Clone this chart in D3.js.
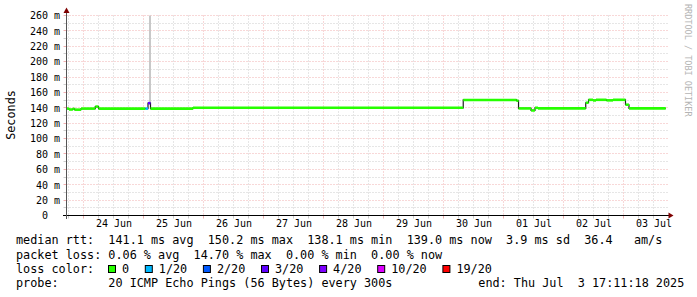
<!DOCTYPE html>
<html>
<head>
<meta charset="utf-8">
<script src="https://cdn.jsdelivr.net/npm/d3@7"></script>
<style>
  html, body { margin: 0; padding: 0; background: #fff; }
  svg { display: block; }
  text { font-family: 'DejaVu Sans Mono', monospace; fill: #000; }
  .pre { white-space: pre; }
</style>
</head>
<body>
<svg id="chart" width="697" height="297"></svg>
<script>
// ---------------- DATA ----------------
const startTime = "2025-06-23 17:11:18";
const endTime   = "2025-07-03 17:11:18";
// median RTT step segments (segment start times, value in ms, lost pings of 20)
const segTimes = [
  "2025-06-23 17:11", "2025-06-23 18:11", "2025-06-23 19:45", "2025-06-23 20:25",
  "2025-06-23 23:00", "2025-06-24 04:42", "2025-06-24 06:00", "2025-06-25 00:47",
  "2025-06-25 01:47", "2025-06-25 02:47", "2025-06-25 19:47", "2025-06-30 07:53",
  "2025-07-01 05:11", "2025-07-01 06:00", "2025-07-01 11:00", "2025-07-01 12:35",
  "2025-07-01 13:47", "2025-07-02 08:53", "2025-07-02 10:00", "2025-07-02 11:47",
  "2025-07-02 13:00", "2025-07-02 17:11", "2025-07-02 19:47", "2025-07-03 00:47",
  "2025-07-03 02:11"
];
const segEnd = "2025-07-03 16:53";
const medianMs = [
  139.0, 137.8, 138.7, 137.6,
  139.0, 141.6, 139.0, 139.0,
  146.0, 139.0, 140.0, 150.2,
  149.2, 139.2, 136.6, 140.0,
  139.2, 146.6, 150.4, 149.6,
  150.4, 149.7, 150.4, 144.0,
  139.3
];
const lossCount = [
  0, 0, 0, 0,
  0, 0, 0, 1,
  3, 0, 0, 0,
  0, 0, 0, 0,
  0, 0, 0, 0,
  0, 0, 0, 0,
  0
];
// smoke (spread of individual pings) where visible
const smokeStart = ["2025-06-25 02:11"];
const smokeEnd   = ["2025-06-25 02:59"];
const smokeMin   = [145];
const smokeMax   = [300];

const yTicks = [0, 20, 40, 60, 80, 100, 120, 140, 160, 180, 200, 220, 240, 260];
const lossLabels = ["0", "1/20", "2/20", "3/20", "4/20", "10/20", "19/20"];
const lossKeys   = [0, 1, 2, 3, 4, 10, 19];
const lossColors = ["#26ff00", "#00b8ff", "#0059ff", "#5e00ff", "#7e00ff", "#dd00ff", "#ff0000"];

const legendLine1 = "median rtt:  141.1 ms avg  150.2 ms max  138.1 ms min  139.0 ms now  3.9 ms sd  36.4   am/s";
const legendLine2 = "packet loss: 0.06 % avg  14.70 % max  0.00 % min  0.00 % now";
const legendLine3 = "loss color:";
const legendLine4 = "probe:       20 ICMP Echo Pings (56 Bytes) every 300s";
const legendEnd   = "end: Thu Jul  3 17:11:18 2025";
const yTitle = "Seconds";
const watermark = "RRDTOOL / TOBI OETIKER";

// ---------------- DRAW ----------------
const parse = d3.timeParse("%Y-%m-%d %H:%M");
const parseS = d3.timeParse("%Y-%m-%d %H:%M:%S");
const t0 = parseS(startTime), t1 = parseS(endTime);

const X0 = 66.5, X1 = 666.5, Y0 = 215.5, Y1 = 15.5;
const x = d3.scaleTime().domain([t0, t1]).range([X0, X1]);
const y = d3.scaleLinear().domain([0, 260]).range([Y0, Y1]);

const svg = d3.select("#chart");
svg.append("rect").attr("width", 697).attr("height", 297).attr("fill", "#fff");

const gridMinor = "rgba(143,143,143,0.45)";
const gridMajor = "rgba(222,80,80,0.45)";
const px = v => Math.round(v - 0.5) + 0.5;

// horizontal grid
const hMinor = d3.range(10, 261, 20);
const g = svg.append("g");
g.selectAll(".hmin").data(hMinor).join("line")
  .attr("x1", X0).attr("x2", X1 + 1).attr("y1", d => px(y(d))).attr("y2", d => px(y(d)))
  .attr("stroke", gridMinor).attr("stroke-dasharray", "1,2");
g.selectAll(".hmaj").data(yTicks.filter(d => d > 0)).join("line")
  .attr("x1", X0).attr("x2", X1 + 1).attr("y1", d => px(y(d))).attr("y2", d => px(y(d)))
  .attr("stroke", gridMajor).attr("stroke-dasharray", "1,2");

// vertical grid
const minorTimes = d3.timeHour.every(6).range(t0, t1).filter(d => d.getHours() !== 0);
const dayTimes = d3.timeDay.range(t0, t1);
g.selectAll(".vmin").data(minorTimes).join("line")
  .attr("x1", d => px(x(d))).attr("x2", d => px(x(d))).attr("y1", Y1).attr("y2", Y0)
  .attr("stroke", gridMinor).attr("stroke-dasharray", "1,2");
g.selectAll(".vmaj").data(dayTimes).join("line")
  .attr("x1", d => px(x(d))).attr("x2", d => px(x(d))).attr("y1", Y1).attr("y2", Y0)
  .attr("stroke", gridMajor).attr("stroke-dasharray", "1,2");

// tick marks on axes
g.selectAll(".ytk").data(d3.range(10, 261, 10)).join("line")
  .attr("x1", X0 - 3).attr("x2", X0).attr("y1", d => px(y(d))).attr("y2", d => px(y(d)))
  .attr("stroke", d => d % 20 === 0 ? gridMajor : gridMinor);
g.selectAll(".xtk").data(minorTimes.concat(dayTimes)).join("line")
  .attr("x1", d => px(x(d))).attr("x2", d => px(x(d))).attr("y1", Y0).attr("y2", Y0 + 3)
  .attr("stroke", d => d.getHours() === 0 ? gridMajor : gridMinor);

// smoke
svg.append("g").selectAll("rect").data(smokeStart).join("rect")
  .attr("x", (d, i) => x(parse(d)))
  .attr("width", (d, i) => x(parse(smokeEnd[i])) - x(parse(d)))
  .attr("y", (d, i) => y(Math.min(260, smokeMax[i])))
  .attr("height", (d, i) => y(smokeMin[i]) - y(Math.min(260, smokeMax[i])))
  .attr("fill", "#c8c8c8");

// median data
const pts = segTimes.map((s, i) => ({ t: parse(s), v: medianMs[i], loss: lossCount[i],
  tEnd: parse(i + 1 < segTimes.length ? segTimes[i + 1] : segEnd) }));
const stepData = pts.map(d => [d.t, d.v]).concat([[parse(segEnd), medianMs[medianMs.length - 1]]]);

// dark step line (transitions)
svg.append("path")
  .attr("d", d3.line().x(d => x(d[0])).y(d => y(d[1])).curve(d3.curveStepAfter)(stepData))
  .attr("fill", "none").attr("stroke", "#1e1e1e").attr("stroke-width", 1.2);

// coloured median segments
function lossColor(n) {
  let c = lossColors[0];
  for (let k = lossKeys.length - 1; k >= 0; k--) {
    if (n > (k > 0 ? lossKeys[k - 1] : -1) && n <= lossKeys[k]) { c = lossColors[k]; break; }
  }
  return c;
}
svg.append("g").selectAll("line").data(pts).join("line")
  .attr("x1", d => x(d.t)).attr("x2", d => x(d.tEnd))
  .attr("y1", d => y(d.v)).attr("y2", d => y(d.v))
  .attr("stroke", d => lossColor(d.loss)).attr("stroke-width", 2.6);

// axes lines
svg.append("line").attr("x1", 63).attr("x2", 669).attr("y1", Y0).attr("y2", Y0)
  .attr("stroke", "#000").attr("stroke-width", 1);
svg.append("line").attr("x1", X0).attr("x2", X0).attr("y1", Y0 + 3.5).attr("y2", 11)
  .attr("stroke", "#555").attr("stroke-width", 1);
// arrows
svg.append("path").attr("d", `M${X1 + 2},${Y0 - 3} L${X1 + 7},${Y0} L${X1 + 2},${Y0 + 3} Z`).attr("fill", "#7f0000");
svg.append("path").attr("d", `M${X0 - 3},${13} L${X0},${7.5} L${X0 + 3},${13} Z`).attr("fill", "#7f0000");

// y axis labels
const yAxis = d3.axisLeft(y).tickValues(yTicks).tickSize(0).tickPadding(0)
  .tickFormat(d => d === 0 ? "0" : d + " m");
const ya = svg.append("g").attr("transform", `translate(${60},0)`).call(yAxis);
ya.select(".domain").remove();
ya.selectAll("text").attr("font-size", "10px").attr("font-family", "'DejaVu Sans Mono', monospace")
  .attr("fill", "#000").attr("dy", "0.33em")
  .attr("dx", d => d === 0 ? -12 : 0);

// x axis labels (at noon)
const noonTimes = d3.timeDay.range(t0, t1).map(d => d3.timeHour.offset(d, 12)).filter(d => d > t0 && d < t1);
const xAxis = d3.axisBottom(x).tickValues(noonTimes).tickSize(0).tickPadding(0)
  .tickFormat(d3.timeFormat("%d %b"));
const xa = svg.append("g").attr("transform", `translate(0,${Y0})`).call(xAxis);
xa.select(".domain").remove();
xa.selectAll("text").attr("font-size", "10px").attr("font-family", "'DejaVu Sans Mono', monospace")
  .attr("fill", "#000").attr("dy", null).attr("y", 11.5);

// y title
svg.append("text").attr("transform", "translate(14.5,115) rotate(-90)")
  .attr("text-anchor", "middle").attr("font-size", "11.8px").text(yTitle);

// watermark
svg.append("text").attr("transform", "translate(684.5,4) rotate(90)")
  .attr("font-size", "8.5px").style("fill", "#b4b4b4").text(watermark);

// legend
const LX = 16, FS = "11.8px", CW = 7.1;
const lg = svg.append("g");
lg.append("text").attr("class", "pre").attr("x", LX).attr("y", 244.3).attr("font-size", FS).text(legendLine1);
lg.append("text").attr("class", "pre").attr("x", LX).attr("y", 258.5).attr("font-size", FS).text(legendLine2);
lg.append("text").attr("class", "pre").attr("x", LX).attr("y", 272.7).attr("font-size", FS).text(legendLine3);
lg.append("text").attr("class", "pre").attr("x", LX).attr("y", 286.9).attr("font-size", FS).text(legendLine4);
lg.append("text").attr("class", "pre").attr("x", 478.3).attr("y", 286.9).attr("font-size", FS).text(legendEnd);

let bx = 108;
lossLabels.forEach((lab, i) => {
  lg.append("rect").attr("x", bx + 0.5).attr("y", 265.5).attr("width", 7).attr("height", 7)
    .attr("fill", lossColors[i]).attr("stroke", "#000").attr("stroke-width", 1);
  lg.append("text").attr("x", bx + 14).attr("y", 272.7).attr("font-size", FS).text(lab);
  bx = bx + 14 + lab.length * CW + 15.7;
});
</script>
</body>
</html>
